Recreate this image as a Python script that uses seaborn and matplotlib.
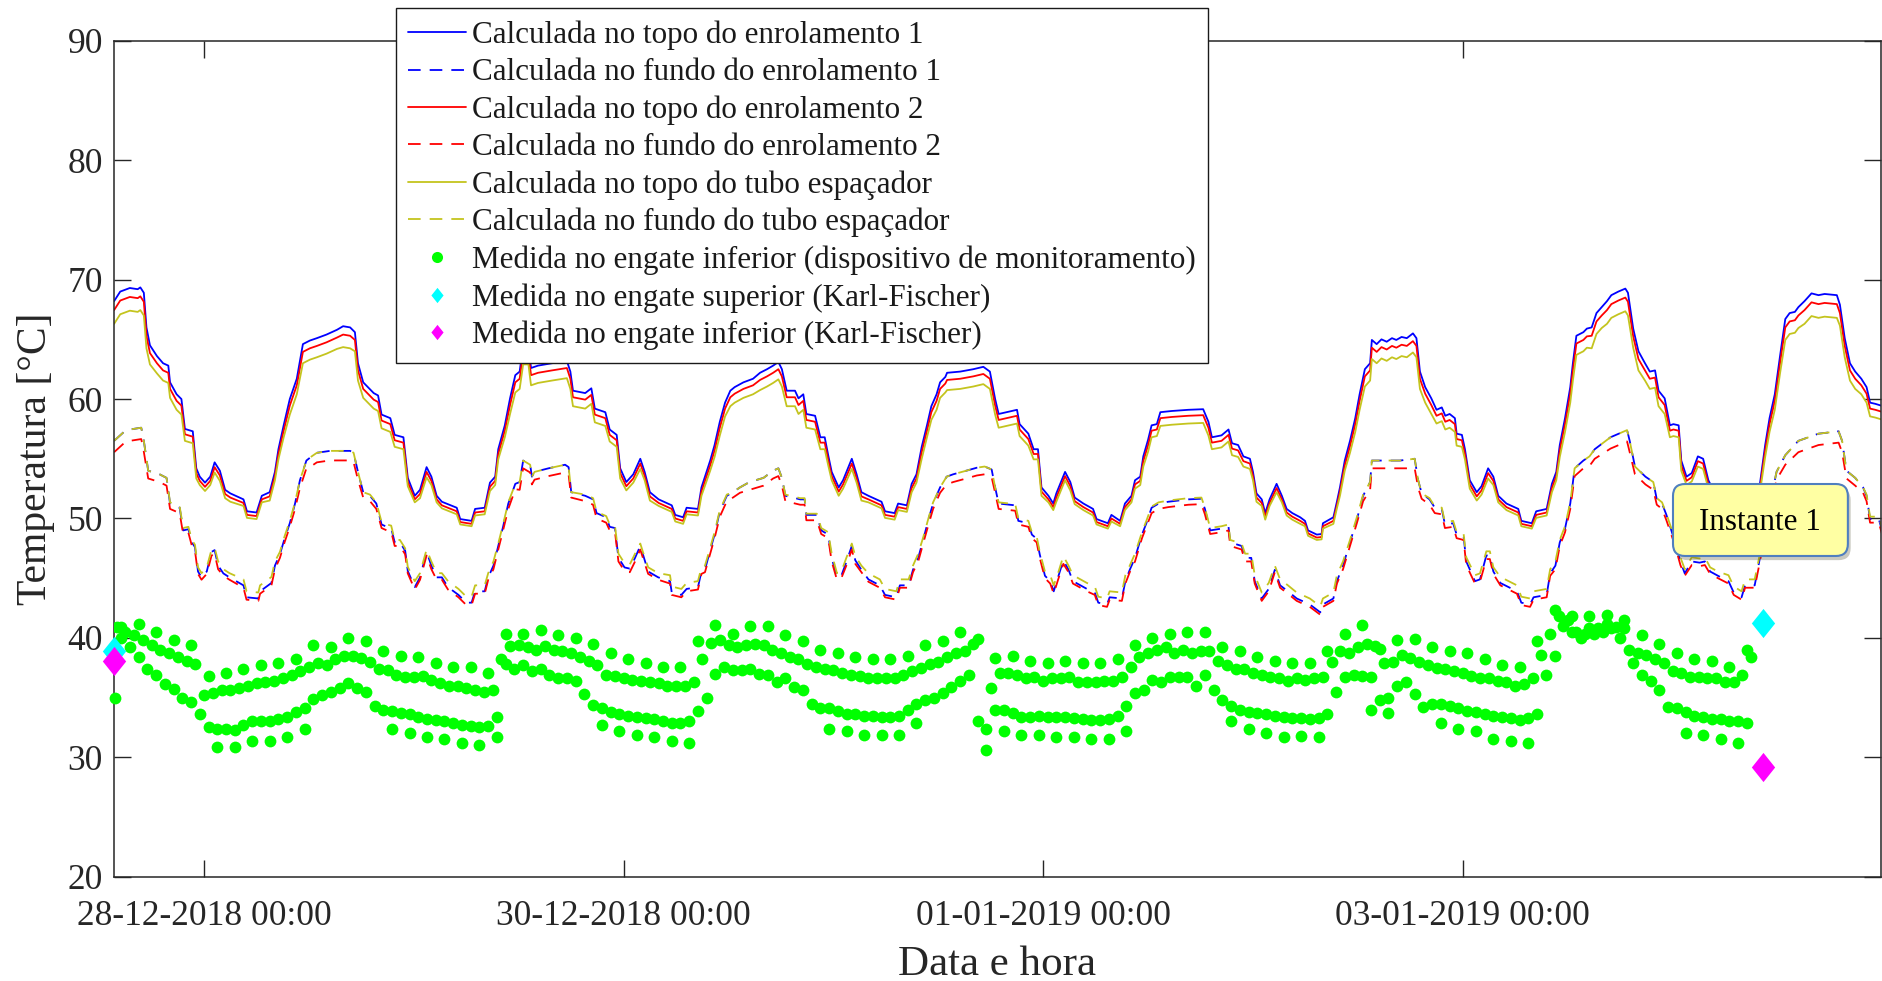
import numpy as np
import pandas as pd
import matplotlib
matplotlib.use("Agg")
import matplotlib.pyplot as plt
import matplotlib.dates as mdates
import matplotlib.patheffects as pe
from matplotlib.lines import Line2D
from matplotlib.patches import FancyBboxPatch
from matplotlib.path import Path
import seaborn as sns

# time in hours after 28-12-2018 00:00
T0 = pd.Timestamp("2018-12-28 00:00")

# --- calculated hot spot, top of windings / spacer tube (solid lines)
sol_h = [
    -10.3, -9.6, -8.5, -7.6, -7.3, -6.9, -6.6, -6.2, -5.4, -4.7,
    -4.1, -3.9, -3.15, -2.6, -2.2, -1.3, -0.9, -0.5, 0.1, 0.7,
    1.2, 1.8, 2.4, 3.0, 4.5, 4.9, 6.0, 6.6, 7.5, 8.1,
    8.5, 9.1, 9.8, 10.6, 11.3, 12.1, 12.9, 14.0, 15.2, 15.9,
    16.7, 17.25, 17.6, 18.2, 19.4, 19.9, 20.3, 21.3, 21.8, 22.8,
    23.3, 24.1, 24.7, 25.45, 26.0, 26.6, 27.2, 28.9, 29.3, 30.6,
    31.0, 32.1, 32.7, 33.3, 33.65, 34.4, 35.0, 35.6, 36.1, 36.5,
    37.1, 37.4, 38.2, 39.8, 41.5, 41.9, 42.2, 43.6, 44.3, 44.7,
    45.9, 46.4, 47.2, 47.6, 48.3, 49.1, 49.9, 50.4, 51.0, 52.0,
    53.5, 53.9, 54.8, 55.2, 56.5, 56.9, 57.9, 58.4, 59.0, 59.6,
    60.2, 60.7, 61.7, 62.8, 63.6, 64.4, 65.1, 65.7, 66.1, 66.65,
    67.6, 68.0, 68.55, 68.9, 69.9, 70.5, 71.0, 71.4, 71.8, 72.6,
    73.1, 74.1, 74.65, 75.2, 76.0, 77.5, 77.9, 79.0, 79.4, 80.4,
    80.95, 81.5, 82.1, 82.7, 83.2, 83.8, 84.2, 84.8, 85.0, 86.5,
    88.0, 89.15, 89.9, 90.5, 90.9, 93.0, 93.3, 94.3, 94.9, 95.4,
    95.8, 96.6, 97.15, 97.5, 98.5, 99.1, 99.6, 100.6, 101.7, 102.1,
    103.4, 103.8, 104.8, 105.35, 106.1, 106.5, 107.1, 107.45, 108.0, 108.4,
    109.0, 109.4, 110.7, 112.6, 114.3, 114.9, 115.3, 116.4, 117.2, 117.6,
    118.3, 118.9, 119.65, 120.0, 120.4, 121.0, 121.4, 121.9, 122.7, 123.3,
    123.85, 124.5, 125.4, 125.95, 126.3, 127.3, 127.85, 128.0, 129.2, 129.6,
    129.95, 130.5, 131.1, 131.7, 132.2, 132.8, 133.4, 133.6, 134.15, 134.7,
    135.3, 135.9, 136.4, 137.0, 137.6, 138.3, 138.7, 139.1, 139.7, 140.4,
    141.0, 141.6, 142.0, 142.5, 143.1, 143.3, 143.9, 144.25, 144.8, 145.6,
    146.15, 146.9, 147.5, 148.06, 149.0, 150.35, 150.7, 151.9, 152.4, 153.6,
    154.2, 154.7, 155.1, 155.7, 156.3, 156.6, 157.0, 157.8, 158.2, 158.75,
    159.3, 159.9, 160.5, 161.0, 161.8, 162.6, 162.9, 163.5, 164.1, 164.85,
    165.4, 166.0, 166.4, 167.1, 167.7, 168.1, 168.7, 169.0, 169.6, 170.2,
    170.9, 171.5, 172.1, 172.8, 174.0, 174.5, 176.0, 176.5, 177.4, 178.0,
    178.6, 179.1, 179.7, 180.3, 180.9, 181.4, 182.0, 182.4, 183.1, 183.9,
    184.7, 185.4, 186.8, 187.15, 187.7, 188.3, 188.9, 189.6, 190.2, 190.6,
    191.2, 192.1,
]
topo_enr1 = [
    68.2, 69.0, 69.3, 69.2, 69.35, 68.9, 66.0, 64.5, 63.6, 63.0,
    62.8, 61.4, 60.4, 60.0, 57.5, 57.3, 54.2, 53.5, 53.0, 53.5,
    54.7, 54.0, 52.4, 52.1, 51.6, 50.6, 50.5, 51.9, 52.2, 53.9,
    55.8, 57.8, 60.0, 61.7, 64.6, 64.9, 65.1, 65.4, 65.8, 66.1,
    66.0, 65.6, 63.0, 61.4, 60.5, 60.3, 58.7, 58.4, 57.0, 56.8,
    53.4, 51.9, 52.4, 54.3, 53.5, 51.9, 51.4, 50.9, 49.95, 49.8,
    50.8, 50.9, 53.0, 53.5, 55.8, 57.8, 60.06, 62.0, 62.3, 64.5,
    64.5, 62.6, 62.8, 63.0, 63.2, 62.3, 60.7, 60.5, 60.9, 59.2,
    58.9, 57.45, 57.0, 54.2, 53.05, 53.7, 55.0, 53.9, 52.2, 51.6,
    51.1, 50.3, 50.1, 50.9, 50.8, 52.6, 54.85, 56.15, 58.1, 59.7,
    60.7, 61.0, 61.4, 61.7, 62.2, 62.5, 62.8, 63.1, 62.5, 60.7,
    60.7, 60.06, 60.4, 58.75, 58.6, 56.8, 56.8, 55.3, 53.9, 52.6,
    53.2, 55.0, 53.7, 52.2, 51.9, 51.4, 50.6, 50.45, 51.25, 51.1,
    52.9, 53.7, 56.0, 57.8, 59.4, 60.4, 61.4, 61.85, 62.2, 62.3,
    62.5, 62.7, 62.3, 60.0, 58.75, 59.1, 57.9, 57.1, 55.8, 55.8,
    52.6, 51.9, 51.25, 52.1, 53.9, 53.05, 51.75, 51.25, 50.8, 49.95,
    49.6, 50.3, 49.8, 51.25, 51.9, 53.2, 53.5, 55.2, 56.6, 57.8,
    57.9, 58.9, 59.0, 59.1, 59.15, 58.1, 56.8, 56.96, 57.45, 56.3,
    56.15, 55.2, 55.0, 53.9, 52.1, 51.6, 50.45, 51.6, 52.9, 51.9,
    50.8, 50.45, 50.1, 49.8, 49.0, 48.65, 48.7, 49.6, 50.1, 51.4,
    52.6, 54.85, 56.5, 58.4, 60.4, 62.5, 63.0, 64.95, 64.6, 65.0,
    64.8, 65.1, 64.95, 65.2, 65.1, 65.5, 65.1, 62.3, 61.0, 60.06,
    59.1, 59.3, 58.6, 58.75, 58.4, 57.1, 57.0, 55.8, 53.2, 52.2,
    52.7, 54.2, 53.5, 51.9, 51.25, 50.8, 49.8, 49.6, 50.6, 50.8,
    52.9, 53.9, 56.15, 58.4, 61.0, 63.0, 65.3, 65.6, 65.9, 66.0,
    67.2, 67.7, 68.2, 68.7, 69.0, 69.25, 68.9, 65.9, 64.0, 63.0,
    62.3, 62.4, 60.7, 60.06, 57.8, 57.9, 57.8, 54.85, 53.5, 53.8,
    55.2, 55.0, 53.2, 52.2, 51.6, 50.6, 50.4, 51.5, 51.7, 52.9,
    56.15, 58.4, 60.4, 63.6, 66.7, 67.2, 67.3, 67.7, 68.2, 68.85,
    68.7, 68.8, 68.7, 67.9, 65.1, 63.0, 62.3, 61.7, 61.0, 59.7,
    59.6, 59.4,
]
topo_enr2 = [
    67.45, 68.25, 68.55, 68.45, 68.6, 68.15, 65.3, 63.85, 63.0, 62.4,
    62.2, 60.85, 59.85, 59.45, 57.05, 56.85, 53.8, 53.15, 52.65, 53.15,
    54.3, 53.6, 52.05, 51.75, 51.3, 50.3, 50.2, 51.6, 51.85, 53.55,
    55.4, 57.35, 59.45, 61.15, 63.95, 64.25, 64.45, 64.75, 65.15, 65.4,
    65.3, 64.95, 62.4, 60.85, 59.95, 59.75, 58.2, 57.9, 56.55, 56.35,
    53.05, 51.6, 52.05, 53.9, 53.15, 51.6, 51.1, 50.6, 49.7, 49.55,
    50.5, 50.6, 52.65, 53.15, 55.4, 57.35, 59.5, 61.4, 61.7, 63.85,
    63.85, 62.0, 62.2, 62.4, 62.6, 61.7, 60.15, 59.95, 60.35, 58.7,
    58.4, 57.0, 56.55, 53.8, 52.7, 53.35, 54.6, 53.55, 51.85, 51.3,
    50.8, 50.0, 49.8, 50.6, 50.5, 52.25, 54.45, 55.7, 57.6, 59.2,
    60.15, 60.45, 60.85, 61.15, 61.6, 61.9, 62.2, 62.5, 61.9, 60.15,
    60.15, 59.5, 59.85, 58.25, 58.1, 56.35, 56.35, 54.9, 53.55, 52.25,
    52.85, 54.6, 53.35, 51.85, 51.6, 51.1, 50.3, 50.15, 50.95, 50.8,
    52.55, 53.35, 55.55, 57.35, 58.9, 59.85, 60.85, 61.3, 61.6, 61.7,
    61.9, 62.1, 61.7, 59.45, 58.25, 58.6, 57.45, 56.65, 55.4, 55.4,
    52.25, 51.6, 50.95, 51.75, 53.55, 52.7, 51.45, 50.95, 50.5, 49.7,
    49.35, 50.0, 49.55, 50.95, 51.6, 52.85, 53.15, 54.8, 56.15, 57.35,
    57.45, 58.4, 58.5, 58.6, 58.65, 57.6, 56.35, 56.5, 57.0, 55.85,
    55.7, 54.8, 54.6, 53.55, 51.75, 51.3, 50.15, 51.3, 52.55, 51.6,
    50.5, 50.15, 49.8, 49.55, 48.75, 48.4, 48.45, 49.35, 49.8, 51.1,
    52.25, 54.45, 56.05, 57.9, 59.85, 61.9, 62.4, 64.3, 63.95, 64.35,
    64.15, 64.45, 64.3, 64.55, 64.45, 64.85, 64.45, 61.7, 60.45, 59.5,
    58.6, 58.8, 58.1, 58.25, 57.9, 56.65, 56.55, 55.4, 52.85, 51.85,
    52.35, 53.8, 53.15, 51.6, 50.95, 50.5, 49.55, 49.35, 50.3, 50.5,
    52.55, 53.55, 55.7, 57.9, 60.45, 62.4, 64.65, 64.95, 65.25, 65.3,
    66.5, 67.0, 67.45, 67.95, 68.25, 68.5, 68.15, 65.25, 63.35, 62.4,
    61.7, 61.8, 60.15, 59.5, 57.35, 57.45, 57.35, 54.45, 53.15, 53.45,
    54.8, 54.6, 52.85, 51.85, 51.3, 50.3, 50.1, 51.2, 51.4, 52.55,
    55.7, 57.9, 59.85, 63.0, 66.0, 66.5, 66.6, 67.0, 67.45, 68.1,
    67.95, 68.05, 67.95, 67.2, 64.45, 62.4, 61.7, 61.15, 60.45, 59.2,
    59.1, 58.9,
]
topo_tubo = [
    66.3, 67.1, 67.4, 67.3, 67.45, 67.0, 64.25, 62.9, 62.15, 61.55,
    61.35, 60.1, 59.1, 58.7, 56.5, 56.3, 53.35, 52.8, 52.3, 52.8,
    53.85, 53.15, 51.7, 51.4, 51.05, 50.05, 49.95, 51.35, 51.5, 53.2,
    54.95, 56.8, 58.7, 60.4, 63.0, 63.3, 63.5, 63.8, 64.2, 64.35,
    64.25, 64.0, 61.55, 60.1, 59.2, 59.0, 57.55, 57.25, 56.0, 55.8,
    52.7, 51.35, 51.7, 53.45, 52.8, 51.35, 50.85, 50.35, 49.5, 49.35,
    50.25, 50.35, 52.3, 52.8, 54.95, 56.8, 58.75, 60.55, 60.85, 62.9,
    62.9, 61.15, 61.35, 61.55, 61.75, 60.85, 59.4, 59.2, 59.6, 58.05,
    57.75, 56.45, 56.0, 53.35, 52.35, 53.0, 54.15, 53.2, 51.5, 51.05,
    50.55, 49.75, 49.55, 50.35, 50.25, 51.9, 54.0, 55.15, 56.95, 58.55,
    59.4, 59.7, 60.1, 60.4, 60.75, 61.05, 61.35, 61.65, 61.05, 59.4,
    59.4, 58.75, 59.1, 57.6, 57.45, 55.8, 55.8, 54.45, 53.2, 51.9,
    52.5, 54.15, 53.0, 51.5, 51.35, 50.85, 50.05, 49.9, 50.7, 50.55,
    52.2, 53.0, 55.0, 56.8, 58.25, 59.1, 60.1, 60.55, 60.75, 60.85,
    61.05, 61.25, 60.85, 58.7, 57.6, 57.95, 56.9, 56.1, 54.95, 54.95,
    51.9, 51.35, 50.7, 51.4, 53.2, 52.35, 51.2, 50.7, 50.25, 49.5,
    49.15, 49.75, 49.35, 50.7, 51.35, 52.5, 52.8, 54.35, 55.6, 56.8,
    56.9, 57.75, 57.85, 57.95, 58.0, 56.95, 55.8, 55.95, 56.45, 55.3,
    55.15, 54.35, 54.15, 53.2, 51.4, 51.05, 49.9, 51.05, 52.2, 51.35,
    50.25, 49.9, 49.55, 49.35, 48.55, 48.2, 48.25, 49.15, 49.55, 50.85,
    51.9, 54.0, 55.5, 57.25, 59.1, 61.05, 61.55, 63.35, 63.0, 63.4,
    63.2, 63.5, 63.35, 63.6, 63.5, 63.9, 63.5, 60.85, 59.7, 58.75,
    57.95, 58.15, 57.45, 57.6, 57.25, 56.1, 56.0, 54.95, 52.5, 51.5,
    52.0, 53.35, 52.8, 51.35, 50.7, 50.25, 49.35, 49.15, 50.05, 50.25,
    52.2, 53.2, 55.15, 57.25, 59.7, 61.55, 63.7, 64.0, 64.3, 64.25,
    65.45, 65.95, 66.3, 66.8, 67.1, 67.35, 67.0, 64.3, 62.4, 61.55,
    60.85, 60.95, 59.4, 58.75, 56.8, 56.9, 56.8, 54.0, 52.8, 53.1,
    54.35, 54.15, 52.5, 51.5, 51.05, 50.05, 49.85, 50.95, 51.15, 52.2,
    55.15, 57.25, 59.1, 62.15, 64.95, 65.45, 65.55, 65.95, 66.3, 66.95,
    66.8, 66.9, 66.8, 66.15, 63.5, 61.55, 60.85, 60.4, 59.7, 58.55,
    58.45, 58.25,
]

# --- calculated bottom temperatures (dashed lines)
das_h = [
    -10.3, -9.1, -8.5, -7.2, -6.96, -6.4, -5.1, -4.3, -3.9, -2.8,
    -2.4, -1.8, -1.4, -1.05, -0.7, -0.3, 0.3, 0.85, 1.2, 1.6,
    2.2, 2.9, 4.5, 4.85, 6.2, 6.4, 7.7, 8.1, 8.67, 9.2,
    9.8, 10.4, 10.96, 11.7, 12.3, 12.9, 14.4, 16.7, 17.1, 17.6,
    18.2, 18.97, 19.7, 20.3, 20.9, 21.4, 21.8, 22.4, 23.0, 23.3,
    24.1, 24.7, 25.45, 26.0, 26.6, 27.2, 27.9, 29.1, 30.0, 30.6,
    31.0, 32.1, 32.5, 33.1, 33.65, 34.2, 34.8, 35.6, 36.1, 36.5,
    37.3, 37.5, 37.8, 39.4, 41.3, 41.7, 42.0, 43.6, 44.5, 44.9,
    46.0, 46.4, 47.0, 47.4, 48.1, 48.7, 49.3, 49.9, 50.2, 50.8,
    51.95, 53.3, 53.5, 54.6, 55.2, 56.5, 56.9, 57.3, 57.9, 58.4,
    59.0, 59.8, 60.5, 61.3, 62.4, 64.0, 65.1, 65.7, 66.1, 66.5,
    68.2, 68.7, 68.9, 70.1, 70.6, 71.4, 71.8, 72.4, 72.9, 73.5,
    74.1, 74.5, 75.2, 76.0, 77.3, 77.9, 79.2, 79.6, 80.6, 81.1,
    81.7, 82.3, 82.9, 83.4, 84.2, 84.95, 85.7, 87.2, 88.4, 89.3,
    90.1, 90.5, 90.9, 92.8, 93.15, 94.3, 94.7, 95.25, 95.6, 96.2,
    96.8, 97.2, 97.7, 98.3, 98.9, 99.4, 101.0, 101.9, 102.3, 103.3,
    103.6, 105.0, 105.4, 105.9, 106.5, 107.3, 107.8, 108.4, 109.2, 110.3,
    112.6, 114.1, 114.5, 115.1, 116.4, 117.2, 117.4, 118.7, 119.1, 119.8,
    120.2, 121.0, 121.8, 122.5, 123.1, 124.0, 125.0, 126.5, 127.7, 128.0,
    129.2, 129.6, 130.3, 131.1, 131.9, 132.6, 133.4, 133.6, 134.9, 136.8,
    138.5, 138.9, 139.3, 140.2, 140.8, 141.6, 141.96, 142.9, 143.3, 144.1,
    144.4, 145.4, 145.97, 146.7, 147.1, 147.5, 148.3, 150.2, 150.7, 151.7,
    152.1, 153.6, 154.0, 154.6, 155.1, 155.7, 156.3, 156.8, 157.8, 158.5,
    159.1, 160.9, 162.8, 163.1, 163.7, 164.9, 165.8, 166.2, 166.8, 167.3,
    168.3, 168.9, 169.4, 170.2, 171.1, 171.7, 172.3, 173.2, 174.4, 175.0,
    175.9, 176.3, 177.4, 178.0, 178.8, 179.9, 180.9, 182.4, 184.7, 187.0,
    187.4, 187.9, 188.9, 189.8, 190.2, 190.6, 191.6, 192.1,
]
fundo_enr1 = [
    56.5, 57.3, 57.45, 57.6, 56.8, 54.0, 53.7, 53.4, 51.25, 50.9,
    49.0, 49.1, 48.0, 47.6, 45.56, 45.07, 45.56, 47.2, 47.35, 46.05,
    45.4, 45.07, 44.4, 43.4, 43.3, 43.9, 44.6, 46.05, 47.0, 48.3,
    49.6, 51.25, 53.2, 54.85, 55.2, 55.5, 55.66, 55.66, 55.5, 53.9,
    52.2, 51.9, 51.25, 49.5, 49.3, 49.2, 48.0, 48.0, 47.3, 45.6,
    44.25, 45.07, 47.2, 46.05, 45.07, 45.07, 44.25, 43.6, 42.95, 42.95,
    43.9, 43.9, 45.07, 46.05, 47.7, 49.3, 51.25, 52.9, 53.05, 54.85,
    54.5, 53.5, 53.9, 54.2, 54.5, 54.3, 52.2, 51.9, 51.6, 50.45,
    50.1, 49.3, 49.2, 46.7, 45.9, 45.8, 46.7, 47.7, 47.0, 45.56,
    45.07, 44.75, 43.8, 43.6, 44.1, 44.25, 45.56, 45.7, 47.35, 48.65,
    50.6, 51.9, 52.2, 52.6, 53.05, 53.4, 54.0, 54.2, 53.4, 51.9,
    51.6, 51.6, 50.3, 50.3, 49.0, 48.65, 46.7, 45.07, 45.2, 46.4,
    47.7, 46.5, 45.7, 44.9, 44.4, 43.6, 43.4, 44.4, 44.4, 45.7,
    46.7, 48.3, 50.0, 51.25, 52.6, 53.5, 53.7, 54.0, 54.25, 54.35,
    54.1, 52.6, 51.25, 51.1, 49.8, 49.6, 48.65, 48.3, 47.0, 45.2,
    44.75, 43.9, 45.07, 46.5, 45.7, 44.75, 44.1, 43.8, 42.95, 42.8,
    43.4, 43.3, 44.75, 45.7, 46.7, 48.65, 49.6, 50.9, 51.25, 51.4,
    51.6, 51.65, 50.8, 49.0, 49.15, 49.3, 48.0, 47.7, 46.7, 46.7,
    44.75, 43.3, 44.1, 45.7, 44.4, 43.9, 43.3, 42.8, 42.14, 42.8,
    43.3, 44.75, 46.05, 48.0, 49.95, 51.9, 53.05, 54.85, 54.85, 54.85,
    55.0, 53.2, 52.1, 51.6, 50.9, 50.8, 49.5, 49.6, 48.65, 48.5,
    46.4, 44.75, 44.9, 46.9, 46.9, 45.56, 44.6, 43.9, 42.95, 42.8,
    43.4, 43.6, 45.4, 46.05, 48.0, 49.15, 51.25, 54.2, 54.85, 55.2,
    55.8, 56.8, 57.4, 56.5, 54.35, 53.5, 53.05, 51.6, 51.25, 50.3,
    48.0, 46.4, 45.4, 46.4, 46.3, 46.4, 45.56, 45.2, 44.75, 43.8,
    43.4, 44.4, 44.4, 46.7, 50.0, 53.9, 55.3, 56.5, 57.1, 57.3,
    56.5, 54.0, 53.4, 52.6, 51.9, 49.95, 49.95, 48.65,
]
fundo_enr2 = [
    55.55, 56.35, 56.5, 56.65, 55.85, 53.35, 53.05, 52.75, 50.8, 50.45,
    48.7, 48.8, 47.7, 47.3, 45.36, 44.87, 45.36, 46.9, 47.05, 45.75,
    45.2, 44.87, 44.2, 43.2, 43.1, 43.7, 44.4, 45.75, 46.7, 48.0,
    49.3, 50.8, 52.55, 54.2, 54.4, 54.7, 54.86, 54.86, 54.7, 53.25,
    51.75, 51.45, 50.8, 49.2, 49.0, 48.9, 47.7, 47.7, 47.0, 45.4,
    44.05, 44.87, 46.9, 45.75, 44.87, 44.87, 44.05, 43.4, 42.75, 42.75,
    43.7, 43.7, 44.87, 45.75, 47.4, 49.0, 50.8, 52.45, 52.4, 54.2,
    53.85, 52.85, 53.25, 53.55, 53.85, 53.65, 51.75, 51.45, 51.15, 50.0,
    49.65, 49.0, 48.9, 46.4, 45.6, 45.5, 46.4, 47.4, 46.7, 45.36,
    44.87, 44.55, 43.6, 43.4, 43.9, 44.05, 45.36, 45.5, 47.05, 48.35,
    50.15, 51.45, 51.75, 52.15, 52.4, 52.75, 53.35, 53.55, 52.75, 51.45,
    51.15, 51.15, 49.85, 49.85, 48.7, 48.35, 46.4, 44.87, 45.0, 46.1,
    47.4, 46.2, 45.5, 44.7, 44.2, 43.4, 43.2, 44.2, 44.2, 45.5,
    46.4, 48.0, 49.55, 50.8, 52.15, 52.85, 53.05, 53.35, 53.6, 53.7,
    53.45, 52.15, 50.8, 50.65, 49.5, 49.3, 48.35, 48.0, 46.7, 45.0,
    44.55, 43.7, 44.87, 46.2, 45.5, 44.55, 43.9, 43.6, 42.75, 42.6,
    43.2, 43.1, 44.55, 45.5, 46.4, 48.35, 49.3, 50.45, 50.8, 50.95,
    51.15, 51.2, 50.35, 48.7, 48.85, 49.0, 47.7, 47.4, 46.4, 46.4,
    44.55, 43.1, 43.9, 45.5, 44.2, 43.7, 43.1, 42.6, 41.94, 42.6,
    43.1, 44.55, 45.75, 47.7, 49.65, 51.45, 52.4, 54.2, 54.2, 54.2,
    54.2, 52.55, 51.65, 51.15, 50.45, 50.35, 49.2, 49.3, 48.35, 48.2,
    46.1, 44.55, 44.7, 46.6, 46.6, 45.36, 44.4, 43.7, 42.75, 42.6,
    43.2, 43.4, 45.2, 45.75, 47.7, 48.85, 50.8, 53.55, 54.2, 54.4,
    55.0, 55.85, 56.45, 55.55, 53.7, 52.85, 52.4, 51.15, 50.8, 49.85,
    47.7, 46.1, 45.2, 46.1, 46.0, 46.1, 45.36, 45.0, 44.55, 43.6,
    43.2, 44.2, 44.2, 46.4, 49.55, 53.25, 54.5, 55.55, 56.15, 56.35,
    55.55, 53.35, 52.75, 52.15, 51.45, 49.65, 49.65, 48.35,
]
fundo_tubo = [
    56.5, 57.3, 57.45, 57.6, 56.8, 54.0, 53.7, 53.4, 51.35, 51.0,
    49.2, 49.3, 48.2, 47.8, 45.91, 45.42, 45.91, 47.4, 47.55, 46.4,
    45.75, 45.42, 44.9, 43.9, 43.8, 44.4, 45.1, 46.4, 47.2, 48.5,
    49.8, 51.35, 53.2, 54.85, 55.2, 55.5, 55.66, 55.66, 55.5, 53.9,
    52.2, 52.0, 51.35, 49.7, 49.5, 49.4, 48.2, 48.2, 47.5, 45.95,
    44.75, 45.42, 47.4, 46.4, 45.42, 45.42, 44.75, 44.1, 43.45, 43.45,
    44.4, 44.4, 45.42, 46.4, 47.9, 49.5, 51.35, 52.9, 53.05, 54.85,
    54.5, 53.5, 53.9, 54.2, 54.5, 54.3, 52.2, 52.0, 51.7, 50.55,
    50.2, 49.5, 49.4, 47.05, 46.25, 46.15, 47.05, 47.9, 47.2, 45.91,
    45.42, 45.25, 44.3, 44.1, 44.6, 44.75, 45.91, 46.05, 47.55, 48.85,
    50.7, 52.0, 52.2, 52.6, 53.05, 53.4, 54.0, 54.2, 53.4, 52.0,
    51.7, 51.7, 50.4, 50.4, 49.2, 48.85, 47.05, 45.42, 45.55, 46.75,
    47.9, 46.85, 46.05, 45.4, 44.9, 44.1, 43.9, 44.9, 44.9, 46.05,
    47.05, 48.5, 50.1, 51.35, 52.6, 53.5, 53.7, 54.0, 54.25, 54.35,
    54.1, 52.6, 51.35, 51.2, 50.0, 49.8, 48.85, 48.5, 47.2, 45.55,
    45.25, 44.4, 45.42, 46.85, 46.05, 45.25, 44.6, 44.3, 43.45, 43.3,
    43.9, 43.8, 45.25, 46.05, 47.05, 48.85, 49.8, 51.0, 51.35, 51.5,
    51.7, 51.75, 50.9, 49.2, 49.35, 49.5, 48.2, 47.9, 47.05, 47.05,
    45.25, 43.8, 44.6, 46.05, 44.9, 44.4, 43.8, 43.3, 42.64, 43.3,
    43.8, 45.25, 46.4, 48.2, 50.15, 52.0, 53.05, 54.85, 54.85, 54.85,
    55.0, 53.2, 52.1, 51.7, 51.0, 50.9, 49.7, 49.8, 48.85, 48.7,
    46.75, 45.25, 45.4, 47.25, 47.25, 45.91, 45.1, 44.4, 43.45, 43.3,
    43.9, 44.1, 45.75, 46.4, 48.2, 49.35, 51.35, 54.2, 54.85, 55.2,
    55.8, 56.8, 57.4, 56.5, 54.35, 53.5, 53.05, 51.7, 51.35, 50.4,
    48.2, 46.75, 45.75, 46.75, 46.65, 46.75, 45.91, 45.55, 45.25, 44.3,
    43.9, 44.9, 44.9, 47.05, 50.1, 53.9, 55.3, 56.5, 57.1, 57.3,
    56.5, 54.0, 53.4, 52.6, 52.0, 50.15, 50.15, 48.85,
]

# --- monitoring device, lower tap: four interleaved rows of points
med_a = [  # every 2 h from -9.5 h
    40.9, 41.2, 40.5, 39.8, 39.4, 36.8, 37.1, 37.4, 37.7, 37.9,
    38.2, 39.4, 39.2, 40.0, 39.7, 38.9, 38.5, 38.4, 37.9, 37.6,
    37.6, 37.1, 40.3, 40.3, 40.7, 40.2, 40.0, 39.5, 38.7, 38.2,
    37.9, 37.6, 37.6, 39.7, 41.1, 40.3, 41.0, 41.0, 40.2, 39.7,
    39.0, 38.7, 38.4, 38.2, 38.2, 38.5, 39.4, 39.7, 40.5, 39.9,
    38.3, 38.5, 38.1, 37.9, 38.1, 37.9, 37.9, 38.2, 39.4, 40.0,
    40.35, 40.5, 40.5, 39.2, 38.9, 38.4, 38.1, 37.9, 37.9, 38.9,
    40.35, 41.1, 39.1, 39.8, 39.9, 39.2, 38.9, 38.7, 38.2, 37.7,
    37.6, 39.7, 42.3, 41.8, 41.8, 41.9, 41.5, 40.2, 39.5, 38.7,
    38.2, 38.1, 37.6, 39.0,
]
med_b = [  # every 1 h from -10 h
    40.9, 40.5, 40.2, 39.8, 39.4, 39.0, 38.7, 38.4, 38.1, 37.8,
    35.2, 35.4, 35.6, 35.6, 35.8, 35.95, 36.2, 36.3, 36.4, 36.6,
    36.9, 37.2, 37.6, 37.9, 37.7, 38.2, 38.5, 38.5, 38.3, 38.0,
    37.4, 37.3, 36.9, 36.7, 36.7, 36.8, 36.5, 36.2, 36.0, 35.95,
    35.8, 35.6, 35.5, 35.6, 38.2, 39.3, 39.4, 39.2, 39.0, 39.3,
    39.0, 38.9, 38.7, 38.4, 38.1, 37.7, 36.9, 36.8, 36.6, 36.5,
    36.4, 36.3, 36.2, 36.0, 35.95, 36.0, 36.3, 38.2, 39.6, 39.8,
    39.4, 39.2, 39.4, 39.5, 39.4, 39.0, 38.7, 38.4, 38.2, 37.8,
    37.6, 37.4, 37.3, 37.1, 36.9, 36.8, 36.6, 36.6, 36.6, 36.6,
    36.9, 37.2, 37.5, 37.8, 38.0, 38.4, 38.7, 38.9, 39.5, np.nan,
    35.8, 37.1, 37.1, 36.9, 36.6, 36.75, 36.4, 36.6, 36.6, 36.75,
    36.3, 36.3, 36.3, 36.4, 36.4, 36.75, 37.6, 38.4, 38.7, 39.0,
    39.2, 38.7, 39.0, 38.7, 38.9, 38.9, 38.1, 37.7, 37.4, 37.4,
    37.1, 36.9, 36.75, 36.6, 36.4, 36.6, 36.5, 36.6, 36.75, 38.0,
    38.9, 38.7, 39.2, 39.5, 39.3, 37.9, 38.0, 38.6, 38.3, 38.0,
    37.7, 37.5, 37.4, 37.25, 37.1, 36.8, 36.6, 36.6, 36.4, 36.3,
    36.0, 36.1, 36.6, 38.6, 40.3, 41.8, 41.5, 40.5, 40.35, 40.35,
    40.5, 40.8, 40.0, 39.0, 38.7, 38.55, 38.2, 37.9, 37.25, 37.1,
    36.75, 36.75, 36.6, 36.6, 36.3, 36.3, 36.9, 38.4,
]
med_c = [  # every 1 h from -9.5 h
    40.0, 39.2, 38.4, 37.4, 36.9, 36.1, 35.7, 35.0, 34.6, 33.6,
    32.5, 32.4, 32.4, 32.3, 32.7, 33.0, 33.0, 33.0, 33.2, 33.4,
    33.8, 34.1, 34.9, 35.2, 35.5, 35.8, 36.2, 35.8, 35.5, 34.3,
    34.0, 33.9, 33.7, 33.6, 33.4, 33.2, 33.1, 33.0, 32.9, 32.7,
    32.6, 32.5, 32.6, 33.4, 37.8, 37.4, 37.7, 37.2, 37.4, 36.9,
    36.6, 36.6, 36.4, 35.3, 34.4, 34.1, 33.8, 33.6, 33.5, 33.34,
    33.3, 33.2, 33.0, 32.9, 32.85, 33.0, 33.9, 35.0, 37.0, 37.6,
    37.3, 37.3, 37.4, 37.0, 36.9, 36.3, 36.6, 35.9, 35.6, 34.5,
    34.15, 34.1, 33.9, 33.66, 33.66, 33.5, 33.45, 33.34, 33.34, 33.5,
    34.0, 34.5, 34.8, 35.0, 35.4, 35.9, 36.4, 36.9, 33.0, 32.4,
    34.0, 34.0, 33.7, 33.4, 33.4, 33.45, 33.34, 33.34, 33.34, 33.3,
    33.2, 33.1, 33.1, 33.2, 33.5, 34.3, 35.4, 35.6, 36.5, 36.3,
    36.7, 36.75, 36.75, 36.0, 36.9, 35.6, 34.8, 34.3, 34.0, 33.8,
    33.7, 33.66, 33.5, 33.34, 33.3, 33.3, 33.2, 33.3, 33.6, 35.5,
    36.7, 36.9, 36.8, 36.75, 34.8, 34.97, 36.0, 36.3, 35.3, 34.2,
    34.5, 34.5, 34.3, 34.15, 33.9, 33.8, 33.66, 33.5, 33.4, 33.3,
    33.1, 33.3, 33.66, 36.9, 38.5, 41.0, 40.5, 40.0, 40.8, 40.8,
    41.2, 40.9, 40.8, 37.9, 36.9, 36.4, 35.6, 34.2, 34.15, 33.8,
    33.5, 33.34, 33.2, 33.2, 33.0, 33.0, 32.85,
]
med_d = [  # every 2 h from -8.5 h
    np.nan, np.nan, np.nan, np.nan, np.nan, 30.9, 30.9, 31.4, 31.4, 31.7,
    32.4, np.nan, np.nan, np.nan, np.nan, 32.4, 32.0, 31.7, 31.55, 31.2,
    31.06, 31.7, np.nan, np.nan, np.nan, np.nan, np.nan, 32.7, 32.2, 31.9,
    31.7, 31.4, 31.2, np.nan, np.nan, np.nan, np.nan, np.nan, np.nan, np.nan,
    32.36, 32.2, 31.9, 31.9, 31.9, 32.85, np.nan, np.nan, np.nan, 30.6,
    32.2, 31.9, 31.9, 31.7, 31.7, 31.55, 31.55, 32.2, np.nan, np.nan,
    np.nan, np.nan, np.nan, 33.0, 32.4, 32.0, 31.7, 31.8, 31.7, np.nan,
    np.nan, 34.0, 33.7, np.nan, np.nan, 32.85, 32.36, 32.2, 31.55, 31.4,
    31.2, np.nan, np.nan, np.nan, np.nan, np.nan, np.nan, np.nan, np.nan, 32.0,
    31.9, 31.55, 31.2, np.nan,
]
med_first_h = [-10.25]
med_first = [35.0]

# --- Karl-Fischer measurements
kf_h = [-10.3, 178.4]
kf_superior = [38.9, 41.25]
kf_inferior = [38.1, 29.15]

labels = [
    "Calculada no topo do enrolamento 1",
    "Calculada no fundo do enrolamento 1",
    "Calculada no topo do enrolamento 2",
    "Calculada no fundo do enrolamento 2",
    "Calculada no topo do tubo espaçador",
    "Calculada no fundo do tubo espaçador",
    "Medida no engate inferior (dispositivo de monitoramento)",
    "Medida no engate superior (Karl-Fischer)",
    "Medida no engate inferior (Karl-Fischer)",
]

BLUE, RED, OLIVE = "#0000FF", "#FF0000", "#C4C41E"
GREEN, CYAN, MAGENTA = "#00FF00", "#00FFFF", "#FF00FF"
INK = "#262626"
DASH = (0, (7, 5))


def to_time(h):
    return T0 + pd.to_timedelta(np.asarray(h, dtype=float), unit="h")


sns.set_style("ticks")
plt.rcParams["font.family"] = ["Liberation Serif", "DejaVu Serif"]

fig = plt.figure(figsize=(18.83, 9.81), dpi=100)
ax = fig.add_axes([0.0606, 0.1063, 0.9381, 0.8521])

series = [
    (sol_h, topo_enr1, BLUE, "-"),
    (das_h, fundo_enr1, BLUE, DASH),
    (sol_h, topo_enr2, RED, "-"),
    (das_h, fundo_enr2, RED, DASH),
    (sol_h, topo_tubo, OLIVE, "-"),
    (das_h, fundo_tubo, OLIVE, DASH),
]
for h, v, c, ls in series:
    sns.lineplot(x=to_time(h), y=v, color=c, linestyle=ls, linewidth=1.3,
                 estimator=None, sort=False, legend=False, ax=ax)

rows = [(-9.5, 2, med_a), (-10.0, 1, med_b), (-9.5, 1, med_c), (-8.5, 2, med_d)]
for start, step, vals in rows:
    hh = start + step * np.arange(len(vals))
    sns.scatterplot(x=to_time(hh), y=vals, color=GREEN, s=72, linewidth=0,
                    legend=False, ax=ax, zorder=3)
sns.scatterplot(x=to_time(med_first_h), y=med_first, color=GREEN, s=72,
                linewidth=0, legend=False, ax=ax, zorder=3, clip_on=False)

diamond = Path([(0, 1), (0.8, 0), (0, -1), (-0.8, 0), (0, 1)],
               [Path.MOVETO, Path.LINETO, Path.LINETO, Path.LINETO, Path.CLOSEPOLY])
ax.plot(to_time(kf_h), kf_superior, ls="none", marker=diamond, ms=21,
        mfc=CYAN, mec="none", clip_on=False, zorder=4)
ax.plot(to_time(kf_h), kf_inferior, ls="none", marker=diamond, ms=21,
        mfc=MAGENTA, mec="none", clip_on=False, zorder=4)

# axes
ax.set_xlim(to_time([-10.3])[0], to_time([191.8])[0])
ax.set_ylim(20, 90)
ax.set_yticks(range(20, 91, 10))
ax.set_xticks(pd.date_range("2018-12-28", periods=4, freq="2D"))
ax.xaxis.set_major_formatter(mdates.DateFormatter("%d-%m-%Y %H:%M"))
ax.tick_params(direction="in", length=12, width=1, colors=INK, labelsize=25.5,
               top=True, right=True)
ax.tick_params(axis="y", pad=8)
ax.tick_params(axis="x", pad=17)
for sp in ax.spines.values():
    sp.set_visible(True)
    sp.set_color(INK)
    sp.set_linewidth(1.1)

ax.set_xlabel("Data e hora", fontsize=31, color=INK, va="center")
ax.xaxis.set_label_coords(0.5, -0.105)
ax.set_ylabel("Temperatura [°C]", fontsize=30, color=INK, va="center")
ax.yaxis.set_label_coords(-0.0442, 0.5)

# annotation box
box = FancyBboxPatch((0.8825, 0.3837), 0.099, 0.0861,
                     boxstyle="round,pad=0,rounding_size=0.0068",
                     mutation_aspect=2.113, transform=ax.transAxes,
                     fc="#FFFFA3", ec="#4F7FBF", lw=1.5, zorder=6, clip_on=False)
box.set_path_effects([pe.SimplePatchShadow(offset=(2, -3), alpha=0.3), pe.Normal()])
ax.add_patch(box)
ax.text(0.932, 0.4235, "Instante 1", transform=ax.transAxes, ha="center",
        va="center", fontsize=22.4, color="black", zorder=7)

# legend
handles = [
    Line2D([], [], color=BLUE, lw=1.3),
    Line2D([], [], color=BLUE, lw=1.3, ls=DASH),
    Line2D([], [], color=RED, lw=1.3),
    Line2D([], [], color=RED, lw=1.3, ls=DASH),
    Line2D([], [], color=OLIVE, lw=1.3),
    Line2D([], [], color=OLIVE, lw=1.3, ls=DASH),
    Line2D([], [], ls="none", marker="o", ms=8, mfc=GREEN, mec="none"),
    Line2D([], [], ls="none", marker=diamond, ms=11, mfc=CYAN, mec="none"),
    Line2D([], [], ls="none", marker=diamond, ms=11, mfc=MAGENTA, mec="none"),
]
leg = fig.legend(handles, labels, loc="upper left", bbox_to_anchor=(0.2103, 0.9914),
                 bbox_transform=fig.transFigure, fontsize=22.4, frameon=True,
                 fancybox=False, framealpha=1, edgecolor="#1a1a1a",
                 borderpad=0.4, labelspacing=0.26, handlelength=1.85,
                 handletextpad=0.2, borderaxespad=0)
leg.get_frame().set_linewidth(1.0)
for t in leg.get_texts():
    t.set_color("#1a1a1a")

fig.savefig("out.png", dpi=100)
